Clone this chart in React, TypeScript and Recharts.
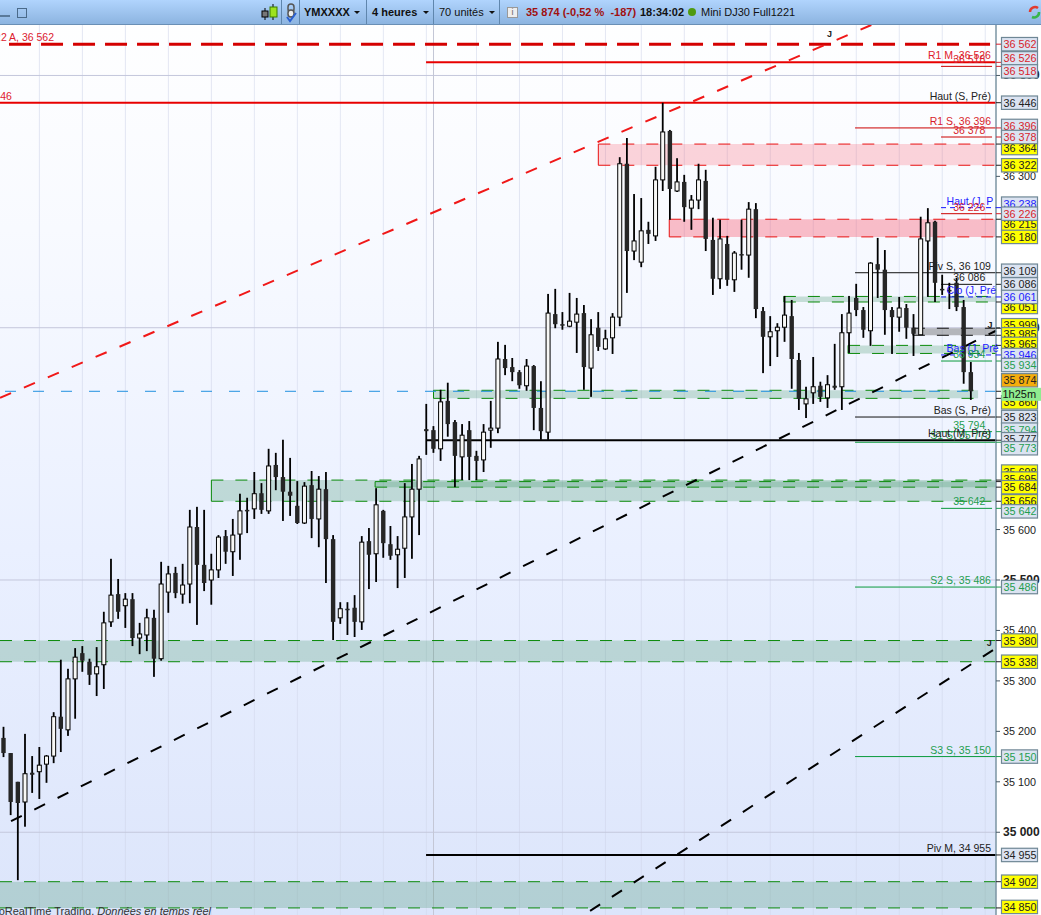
import { Bar, CartesianGrid, ComposedChart, ReferenceArea, ReferenceDot, ReferenceLine, XAxis, YAxis } from 'recharts'

// 4h candles, oldest first (prices)
const opens = [35187,35157,35100,35060,35118,35120,35135,35151,35229,35203,35304,35355,35338,35314,35332,35417,35472,35449,35462,35385,35391,35425,35344,35476,35514,35472,35492,35605,35530,35500,35520,35587,35556,35591,35639,35641,35672,35637,35728,35704,35675,35647,35613,35688,35621,35680,35581,35425,35443,35445,35417,35577,35552,35637,35571,35550,35563,35625,35680,35799,35797,35760,35855,35813,35744,35797,35746,35738,35797,35801,35938,35922,35912,35885,35924,35841,35793,36027,36007,36003,36011,36029,35920,36000,35958,35980,36021,36325,36152,36130,36194,36182,36293,36390,36271,36289,36237,36253,36291,36174,36097,36166,36095,36146,36144,36235,36033,35982,35994,36001,36023,35936,35849,35871,35885,35861,35885,35883,35990,36059,36035,35994,36126,36115,36035,36021,36039,36000,35986,36172,36210,36077,36075,36089,36041,35912]
const highs = [35209,35157,35100,35195,35151,35169,35153,35238,35342,35324,35365,35369,35344,35367,35437,35542,35502,35474,35474,35415,35443,35441,35536,35528,35526,35532,35639,35645,35639,35552,35589,35599,35621,35671,35663,35714,35692,35760,35752,35778,35742,35696,35694,35716,35706,35714,35589,35456,35456,35470,35587,35603,35682,35639,35607,35587,35692,35730,35746,35849,35805,35877,35891,35817,35809,35815,35756,35809,35855,35972,35966,35940,35916,35938,35926,35894,36067,36077,36031,36069,36059,36045,36017,36031,35996,36029,36338,36376,36265,36257,36210,36319,36446,36392,36336,36303,36263,36325,36313,36218,36214,36182,36152,36214,36249,36247,36041,36023,36009,36063,36055,35950,35883,35942,35893,35906,35968,36027,36063,36087,36041,36130,36178,36154,36041,36061,36047,36027,36220,36237,36212,36105,36089,36099,36055,35932]
const lows = [35149,35034,34905,35011,35078,35066,35098,35137,35159,35191,35225,35318,35292,35270,35284,35407,35423,35405,35369,35353,35359,35308,35340,35435,35464,35453,35454,35411,35478,35451,35504,35532,35508,35540,35593,35621,35631,35631,35678,35617,35627,35611,35611,35583,35565,35494,35381,35413,35391,35387,35401,35482,35496,35544,35540,35484,35504,35542,35589,35748,35752,35736,35784,35684,35698,35698,35698,35714,35762,35791,35906,35894,35879,35875,35797,35778,35778,35999,35996,36001,35950,35877,35863,35954,35956,35948,36003,36069,36134,36120,36166,36172,36271,36214,36269,36210,36194,36235,36152,36065,36077,36083,36071,36115,36099,36019,35910,35924,35942,35972,35879,35837,35821,35849,35853,35841,35877,35837,35950,36023,35980,35964,36059,35986,35948,35992,35978,35944,35986,36061,36051,36065,36037,36033,35889,35857]
const closes = [35157,35060,35058,35116,35114,35133,35151,35229,35205,35304,35347,35340,35312,35328,35415,35470,35437,35462,35385,35393,35425,35344,35492,35512,35474,35490,35605,35530,35494,35520,35585,35556,35589,35637,35637,35671,35639,35726,35704,35675,35667,35613,35686,35621,35680,35581,35417,35443,35441,35417,35575,35550,35649,35573,35548,35561,35625,35680,35740,35795,35760,35853,35809,35746,35787,35744,35736,35793,35801,35938,35920,35912,35886,35924,35841,35795,36029,36007,36005,36013,36027,35922,35986,35962,35978,36021,36325,36152,36172,36192,36186,36293,36388,36275,36289,36239,36253,36293,36176,36097,36176,36095,36148,36144,36235,36037,35982,35992,36001,36025,35938,35859,35859,35883,35863,35887,35881,35990,36029,36035,35996,36128,36115,36035,36021,36039,36000,35988,36176,36208,36089,36075,36073,36041,35912,35874]

// Extra empty slots on the right of the last candle are kept by the axis domain
const xDomain = [-0.5, 138.5]
const yDomain = [34836, 36600]

const gridBars = [5, 11, 17, 23, 29, 35, 41, 47, 53, 59, 66, 72, 78, 84, 89, 95, 101, 107, 113, 119, 125, 131, 137]
const sessionBar = 60
const roundPrices = [35000, 35500, 36000, 36500]

const greenZones = [
  { top: 34902, bottom: 34850, from: -0.5, to: 138.5, edge: false },
  { top: 35380, bottom: 35338, from: -0.5, to: 138.5, edge: false },
  { top: 35698, bottom: 35656, from: 29, to: 138.5, edge: true },
  { top: 35695, bottom: 35684, from: 51.85, to: 138.5, edge: true },
  { top: 35876, bottom: 35860, from: 60, to: 136, edge: true },
  { top: 36062, bottom: 36051, from: 108.9, to: 138.5, edge: true },
  { top: 35965, bottom: 35949, from: 117.85, to: 138.5, edge: true },
]
const greyZones = [{ top: 35999, bottom: 35985, from: 126.9, to: 138.5 }]
const redZones = [
  { top: 36364, bottom: 36322, from: 83, to: 138.5, fade: 0.2 },
  { top: 36215, bottom: 36180, from: 92.9, to: 138.5, fade: 0.3 },
]

const levels = [
  { price: 36562, from: 0.76, to: 137.67, kind: 'redDash', text: 'R2 A, 36 562', at: 7.04, anchor: 'end' },
  { price: 36526, from: 58.96, to: 138.5, kind: 'redBold', text: 'R1 M, 36 526', at: 137.8, anchor: 'end' },
  { price: 36518, from: 130.83, to: 137.95, kind: 'redThin', text: '36 518', at: 137, anchor: 'end' },
  { price: 36446, from: -0.5, to: 138.5, kind: 'redBold', text: '36 446', at: 1.17, anchor: 'end' },
  { price: 36446, from: -0.5, to: -0.5, kind: 'blackThin', text: 'Haut (S, Pré)', at: 137.8, anchor: 'end' },
  { price: 36396, from: 118.83, to: 138.5, kind: 'redThin', text: 'R1 S, 36 396', at: 137.8, anchor: 'end' },
  { price: 36378, from: 130.83, to: 137.95, kind: 'redThin', text: '36 378', at: 137, anchor: 'end' },
  { price: 36238, from: 130.83, to: 138.5, kind: 'blueDash', text: 'Haut (J, P', at: 131.6, anchor: 'start' },
  { price: 36226, from: 130.83, to: 137.95, kind: 'redThin', text: '36 226', at: 137, anchor: 'end' },
  { price: 36109, from: 118.83, to: 138.5, kind: 'blackThin', text: 'Piv S, 36 109', at: 137.8, anchor: 'end' },
  { price: 36086, from: 130.83, to: 137.95, kind: 'blackThin', text: '36 086', at: 137, anchor: 'end' },
  { price: 36061, from: 130.83, to: 138.5, kind: 'blueDash', text: 'Clo (J, Pré', at: 131.6, anchor: 'start' },
  { price: 35946, from: 130.83, to: 138.5, kind: 'blueDash', text: 'Bas (J, Pré', at: 131.6, anchor: 'start' },
  { price: 35934, from: 130.83, to: 137.95, kind: 'greenThin', text: '35 934', at: 137, anchor: 'end' },
  { price: 35823, from: 118.83, to: 138.5, kind: 'blackThin', text: 'Bas (S, Pré)', at: 137.8, anchor: 'end' },
  { price: 35794, from: 130.83, to: 137.95, kind: 'greenThin', text: '35 794', at: 137, anchor: 'end' },
  { price: 35773, from: 118.83, to: 138.5, kind: 'greenThin', text: 'S1 S, 35 773', at: 137.8, anchor: 'end' },
  { price: 35777, from: 58.96, to: 138.5, kind: 'blackBold', text: 'Haut (M, Pré)', at: 137.8, anchor: 'end' },
  { price: 35642, from: 130.83, to: 137.95, kind: 'greenThin', text: '35 642', at: 137, anchor: 'end' },
  { price: 35486, from: 118.83, to: 138.5, kind: 'greenThin', text: 'S2 S, 35 486', at: 137.8, anchor: 'end' },
  { price: 35150, from: 118.83, to: 138.5, kind: 'greenThin', text: 'S3 S, 35 150', at: 137.8, anchor: 'end' },
  { price: 34955, from: 58.96, to: 138.5, kind: 'blackBold', text: 'Piv M, 34 955', at: 137.8, anchor: 'end' },
]
const lastPrice = 35874

const redTrend = [{ x: -0.5, y: 35861 }, { x: 121.1, y: 36600 }]
const blackTrendA = [{ x: 1.04, y: 35022 }, { x: 138.5, y: 35994 }]
const blackTrendB = [{ x: 81.85, y: 34844 }, { x: 138.4, y: 35364 }]
const trendMarks = [{ x: 114.9, y: 36576 }, { x: 137.3, y: 36000 }, { x: 137.2, y: 35369 }]

const plainTicks = [36300, 35600, 35400, 35300, 35200, 35100]
const boldTicks = [36500, 36000, 35500, 35000]
const yellowTicks = [36364, 36322, 36215, 36180, 36051, 35999, 35985, 35965, 35860, 35698, 35695, 35684, 35656, 35380, 35338, 34902, 34850]
const redTicks = [36562, 36526, 36518, 36396, 36378, 36226]
const blackTicks = [36446, 36109, 36086, 35823, 35777, 34955]
const blueTicks = [36238, 36061, 35946]
const greenTicks = [35934, 35794, 35773, 35642, 35486, 35150]
const countdownTick = 35868
const countdownText = '1h25m'

// boxes pushed apart by the platform so they do not overlap
const tickNudge: Record<number, number> = {
  36526: -4, 36518: 5, 36396: -2, 36364: 4, 36238: -4, 36215: 5, 36109: -2, 36051: 5, 35999: -3, 35985: -1,
  35965: -1.5, 35934: 4, 35874: -11, 35860: 4, 35794: -2, 35777: -1, 35773: 6, 35698: -8.5, 35695: -3, 35642: 3, 34850: -1,
}

const axisTicks = [
  ...plainTicks,
  ...boldTicks,
  ...yellowTicks,
  ...[...redTicks, ...blackTicks, ...blueTicks, ...greenTicks, lastPrice].sort((a, b) => b - a),
  countdownTick,
]

const rows = opens.map((open, i) => ({
  i,
  open,
  close: closes[i],
  high: highs[i],
  low: lows[i],
  range: [lows[i], highs[i]],
}))

const FONT = '"Liberation Sans", Arial, sans-serif'

const lineStyles: Record<string, any> = {
  redDash: { stroke: '#d40000', strokeWidth: 3, strokeDasharray: '22 10', text: '#dc2030' },
  redBold: { stroke: '#e80000', strokeWidth: 2, text: '#e0202c' },
  redThin: { stroke: '#cc0000', strokeWidth: 1, text: '#d81e2c' },
  blackThin: { stroke: '#111', strokeWidth: 1, text: '#222' },
  blackBold: { stroke: '#000', strokeWidth: 2, text: '#222' },
  greenThin: { stroke: '#0a9a3c', strokeWidth: 1, text: '#1f9e50' },
  blueDash: { stroke: '#1414ff', strokeWidth: 1, strokeDasharray: '5 4', text: '#1c1cff' },
}

const fmtPrice = (v: number) => {
  const s = String(v)
  return `${s.slice(0, 2)} ${s.slice(2)}`
}

function Candle(props: any) {
  const { x, y, width, height, payload } = props
  const cx = x + width / 2
  const { open, close, high, low } = payload
  const perPrice = height / (high - low || 1)
  const top = y + (high - Math.max(open, close)) * perPrice
  const bottom = y + (high - Math.min(open, close)) * perPrice
  const up = close > open
  return (
    <g>
      <rect x={cx - 0.9} y={y} width={1.8} height={height} fill="#000" />
      {up ? (
        <rect x={cx - 2} y={top} width={4} height={Math.max(bottom - top, 1)} fill="#f8f8f6" stroke="#000" strokeWidth={1} />
      ) : (
        <rect x={cx - 2.2} y={top} width={4.4} height={Math.max(bottom - top, 1.5)} fill="#262626" />
      )}
    </g>
  )
}

function AxisTick(props: any) {
  const { x, y, payload } = props
  const v = payload.value
  if (v === countdownTick) {
    return (
      <g fontFamily={FONT}>
        <rect x={x + 5.5} y={y - 6.5} width={40} height={13} fill="#8fec8f" />
        <text x={x + 6.5} y={y + 4} fontSize={11} fill="#111">{countdownText}</text>
      </g>
    )
  }
  if (plainTicks.includes(v) || boldTicks.includes(v)) {
    const bold = boldTicks.includes(v)
    return (
      <g fontFamily={FONT}>
        <line x1={x} x2={x + 4} y1={y} y2={y} stroke="#4a5a66" />
        <text x={x + 7} y={y + 4} fontSize={bold ? 12 : 10.8} fontWeight={bold ? 700 : 400} fill="#222">{fmtPrice(v)}</text>
      </g>
    )
  }
  const boxY = y + (tickNudge[v] ?? 0)
  let fill = '#dbe3f1'
  let color = '#222'
  if (yellowTicks.includes(v)) fill = '#ffff00'
  if (v === lastPrice) fill = '#f5ad0c'
  if (redTicks.includes(v)) color = '#d81e2c'
  if (blueTicks.includes(v)) color = '#1c1cff'
  if (greenTicks.includes(v)) color = '#1f9e50'
  return (
    <g fontFamily={FONT}>
      <line x1={x} x2={x + 5} y1={y} y2={y} stroke={color} />
      <rect x={x + 5.5} y={boxY - 6.7} width={36} height={13.4} fill={fill} stroke="#6f8795" strokeWidth={1.2} />
      <text x={x + 7.5} y={boxY + 4} fontSize={10.8} fill={color}>{fmtPrice(v)}</text>
    </g>
  )
}

function LevelText(props: any) {
  const { cx, cy, label, color, anchor } = props
  return <text x={cx} y={cy - 3} fontFamily={FONT} fontSize={10.5} fill={color} textAnchor={anchor}>{label}</text>
}

function Mark(props: any) {
  return <text x={props.cx} y={props.cy} fontFamily={FONT} fontSize={9} fontWeight={700} fill="#222">J</text>
}

function Header() {
  const sep = [281, 299, 366, 433, 499]
  const txt = { position: 'absolute', top: 5, fontSize: 11, lineHeight: '14px', whiteSpace: 'nowrap' } as const
  const arrow = (left: number) => (
    <div style={{ position: 'absolute', left, top: 11, width: 0, height: 0, borderLeft: '3px solid transparent', borderRight: '3px solid transparent', borderTop: '3px solid #111' }} />
  )
  return (
    <div style={{ position: 'absolute', left: 0, top: 0, width: 1041, height: 24, background: 'linear-gradient(#b0d4fd, #8cb4e0)', borderBottom: '1px solid #6a8fb5', fontFamily: FONT, color: '#111' }}>
      <div style={{ position: 'absolute', left: 0, top: 15, width: 10, height: 2, background: '#5a7a9a' }} />
      <div style={{ position: 'absolute', left: 17, top: 8, width: 8, height: 8, border: '1px solid #4a6a8a' }} />
      {sep.map((x) => <div key={x} style={{ position: 'absolute', left: x, top: 0, width: 1, height: 24, background: '#5f86ad' }} />)}
      <svg style={{ position: 'absolute', left: 260, top: 3 }} width={20} height={18}>
        <line x1={5} x2={5} y1={5} y2={17} stroke="#000" />
        <rect x={2} y={8} width={6} height={6} fill="#777" stroke="#000" />
        <line x1={13} x2={13} y1={1} y2={17} stroke="#000" />
        <rect x={10} y={4} width={7} height={10} fill="#9de21f" stroke="#3a7a00" />
      </svg>
      <svg style={{ position: 'absolute', left: 285, top: 3 }} width={13} height={20}>
        <rect x={3} y={1} width={6} height={8} rx={3} fill="none" stroke="#555" strokeWidth={1.5} />
        <rect x={3} y={7} width={6} height={7} rx={3} fill="#eee" stroke="#555" strokeWidth={1.5} />
        <path d="M2 14 L5 18 L11 10" fill="none" stroke="#2a5fd0" strokeWidth={2} />
      </svg>
      <div style={{ ...txt, left: 304, fontWeight: 700 }}>YMXXXX</div>
      {arrow(354)}
      <div style={{ ...txt, left: 372, fontWeight: 700 }}>4 heures</div>
      {arrow(423)}
      <div style={{ ...txt, left: 439 }}>70 unités</div>
      {arrow(489)}
      <div style={{ position: 'absolute', left: 507, top: 7, width: 9, height: 9, background: '#eee', border: '1px solid #999', fontSize: 9, lineHeight: '9px', textAlign: 'center', color: '#666' }}>i</div>
      <div style={{ ...txt, left: 526, fontWeight: 700, color: '#a01010' }}>35 874 (-0,52 %&nbsp; -187)</div>
      <div style={{ ...txt, left: 640, fontWeight: 700 }}>18:34:02</div>
      <div style={{ position: 'absolute', left: 688, top: 8, width: 8, height: 8, borderRadius: 4, background: '#4f9a10' }} />
      <div style={{ ...txt, left: 701 }}>Mini DJ30 Full1221</div>
      <svg style={{ position: 'absolute', left: 1028, top: 4 }} width={13} height={16}>
        <path d="M2 8 A5 5 0 0 1 10 4" fill="none" stroke="#e23b2e" strokeWidth={2.5} />
        <path d="M11 8 A5 5 0 0 1 4 13" fill="none" stroke="#39b54a" strokeWidth={2.5} />
      </svg>
    </div>
  )
}

export default function App() {
  return (
    <div style={{ position: 'absolute', left: 0, top: 0, width: 1041, height: 915, overflow: 'hidden', background: '#fff' }}>
      <div style={{ position: 'absolute', left: 0, top: 0, width: 996, height: 915, background: 'linear-gradient(#ffffff 0%, #f8faff 25%, #eaf0ff 60%, #dce5fb 100%)' }} />
      <ComposedChart
        width={1041}
        height={915}
        data={rows}
        margin={{ top: 25, right: 0, bottom: 0, left: 0 }}
        barCategoryGap={0}
        style={{ position: 'absolute', left: 0, top: 0 }}
      >
        <XAxis dataKey="i" type="number" domain={xDomain} hide allowDataOverflow />
        <YAxis
          orientation="right"
          width={45}
          domain={yDomain}
          ticks={axisTicks}
          interval={0}
          allowDataOverflow
          tick={<AxisTick />}
          tickSize={0}
          tickMargin={0}
          tickLine={false}
          stroke="#7b94a3"
          strokeWidth={1.5}
        />
        <CartesianGrid horizontal={false} verticalValues={gridBars} stroke="#cfd6ea" strokeOpacity={0.55} />
        <CartesianGrid vertical={false} horizontalValues={roundPrices} stroke="#c4c7dc" />
        <ReferenceLine x={sessionBar} stroke="#c4c7d6" zIndex={50} />

        {greenZones.map((z, n) => (
          <ReferenceArea key={`gz${n}`} x1={z.from} x2={z.to} y1={z.bottom} y2={z.top} fill="#2e8b57" fillOpacity={0.24} stroke="none" zIndex={60} />
        ))}
        {greyZones.map((z, n) => (
          <ReferenceArea key={`sz${n}`} x1={z.from} x2={z.to} y1={z.bottom} y2={z.top} fill="#555" fillOpacity={0.4} stroke="none" zIndex={60} />
        ))}
        {redZones.map((z, n) => (
          <ReferenceArea key={`rz${n}`} x1={z.from} x2={z.to} y1={z.bottom} y2={z.top} fill="#f83048" fillOpacity={z.fade} stroke="none" zIndex={60} />
        ))}
        {greenZones.flatMap((z, n) => [
          <ReferenceLine key={`gt${n}`} segment={[{ x: z.from, y: z.top }, { x: z.to, y: z.top }]} stroke="#0a8a0a" strokeWidth={1} strokeDasharray="12 12" zIndex={70} />,
          <ReferenceLine key={`gb${n}`} segment={[{ x: z.from, y: z.bottom }, { x: z.to, y: z.bottom }]} stroke="#0a8a0a" strokeWidth={1} strokeDasharray="12 12" zIndex={70} />,
          z.edge ? <ReferenceLine key={`ge${n}`} segment={[{ x: z.from, y: z.bottom }, { x: z.from, y: z.top }]} stroke="#0a8a0a" zIndex={70} /> : null,
        ])}
        {greyZones.flatMap((z, n) => [
          <ReferenceLine key={`st${n}`} segment={[{ x: z.from, y: z.top }, { x: z.to, y: z.top }]} stroke="#111" strokeDasharray="12 12" zIndex={70} />,
          <ReferenceLine key={`sb${n}`} segment={[{ x: z.from, y: z.bottom }, { x: z.to, y: z.bottom }]} stroke="#111" strokeDasharray="12 12" zIndex={70} />,
          <ReferenceLine key={`se${n}`} segment={[{ x: z.from, y: z.bottom }, { x: z.from, y: z.top }]} stroke="#111" zIndex={70} />,
        ])}
        {redZones.flatMap((z, n) => [
          <ReferenceLine key={`rt${n}`} segment={[{ x: z.from, y: z.top }, { x: z.to, y: z.top }]} stroke="#e81010" strokeDasharray="12 12" zIndex={70} />,
          <ReferenceLine key={`rb${n}`} segment={[{ x: z.from, y: z.bottom }, { x: z.to, y: z.bottom }]} stroke="#e81010" strokeDasharray="12 12" zIndex={70} />,
          <ReferenceLine key={`re${n}`} segment={[{ x: z.from, y: z.bottom }, { x: z.from, y: z.top }]} stroke="#e81010" zIndex={70} />,
        ])}

        <ReferenceLine y={lastPrice} stroke="#2090e0" strokeDasharray="11 17" zIndex={75} />
        {levels.filter((l) => l.from !== l.to).map((l, n) => {
          const { text, ...style } = lineStyles[l.kind]
          return <ReferenceLine key={`lv${n}`} segment={[{ x: l.from, y: l.price }, { x: l.to, y: l.price }]} {...style} zIndex={80} />
        })}

        <ReferenceLine segment={redTrend} stroke="#f01818" strokeWidth={2} strokeDasharray="12 14" zIndex={90} />
        <ReferenceLine segment={blackTrendA} stroke="#000" strokeWidth={2} strokeDasharray="12 14" zIndex={90} />
        <ReferenceLine segment={blackTrendB} stroke="#000" strokeWidth={2} strokeDasharray="12 14" zIndex={90} />

        <Bar dataKey="range" barSize={5} shape={<Candle />} isAnimationActive={false} />

        {levels.map((l, n) => (
          <ReferenceDot
            key={`tx${n}`}
            x={l.at}
            y={l.price}
            r={0}
            zIndex={2000}
            shape={<LevelText label={l.text} color={lineStyles[l.kind].text} anchor={l.anchor} />}
          />
        ))}
        {trendMarks.map((m, n) => (
          <ReferenceDot key={`mk${n}`} x={m.x} y={m.y} r={0} zIndex={2000} shape={<Mark />} />
        ))}
      </ComposedChart>
      <Header />
      <div style={{ position: 'absolute', right: 830, top: 905, fontFamily: FONT, fontSize: 11, lineHeight: '13px', whiteSpace: 'nowrap', color: '#333' }}>
        ProRealTime Trading, <i>Données en temps réel</i>
      </div>
    </div>
  )
}
